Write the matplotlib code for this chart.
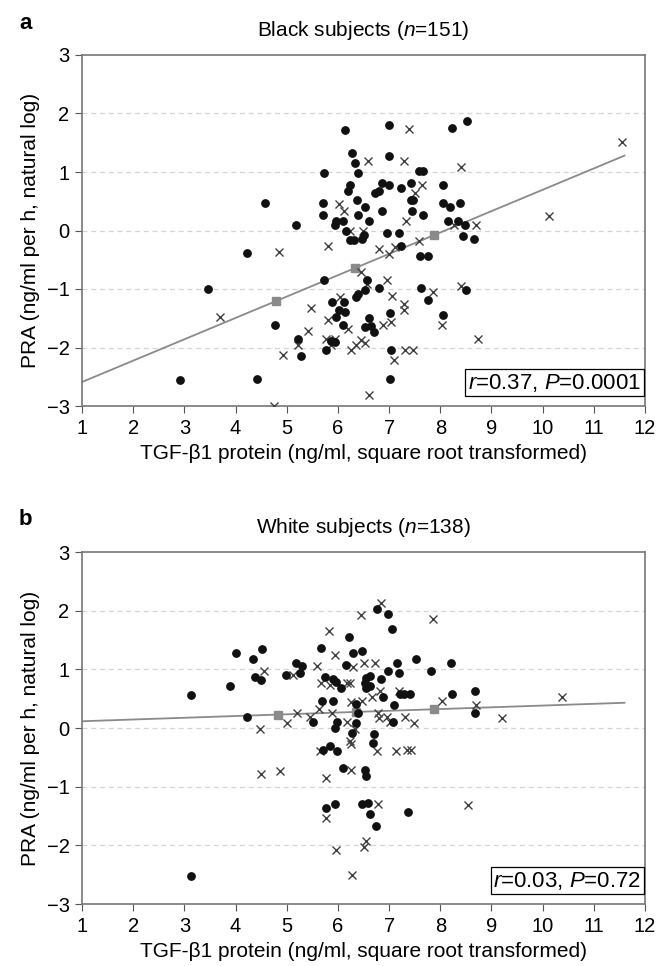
import numpy as np
import matplotlib
matplotlib.use("Agg")
import matplotlib.pyplot as plt

plt.rcParams['font.family'] = ['Liberation Sans', 'DejaVu Sans']
plt.rcParams['mathtext.fontset'] = 'custom'
plt.rcParams['mathtext.rm'] = 'Liberation Sans'
plt.rcParams['mathtext.it'] = 'Liberation Sans:italic'

# ---- panel a: Black subjects ----
black_dot_x = [6.13, 7.00, 8.23, 8.53, 6.27, 7.00, 6.33, 6.40, 5.72, 7.59, 7.67, 6.86, 7.00, 7.23,
               7.43, 8.06, 6.24, 6.20, 6.72, 6.81, 7.42, 7.47, 4.57, 5.70, 6.38, 6.53, 6.86, 7.44,
               8.06, 8.19, 8.38, 5.70, 5.97, 6.10, 6.40, 6.61, 7.66, 5.94, 6.15, 5.18, 8.15, 8.35,
               8.48, 8.45, 8.65, 6.95, 7.20, 6.23, 6.31, 6.47, 6.51, 7.23, 4.22, 7.60, 7.76, 5.72,
               6.56, 6.81, 6.53, 6.36, 6.40, 7.63, 7.76, 8.50, 5.89, 6.11, 6.03, 6.13, 5.97, 7.02,
               8.06, 4.78, 6.10, 6.61, 6.53, 6.64, 6.71, 5.22, 5.87, 5.95, 5.77, 5.28, 7.03, 4.42,
               7.01, 3.46, 2.91]
black_dot_y = [1.72, 1.81, 1.76, 1.88, 1.32, 1.27, 1.15, 0.98, 0.98, 1.02, 1.02, 0.82, 0.78, 0.73,
               0.82, 0.78, 0.78, 0.68, 0.64, 0.68, 0.52, 0.52, 0.47, 0.47, 0.52, 0.40, 0.34, 0.34,
               0.47, 0.40, 0.47, 0.26, 0.17, 0.17, 0.26, 0.17, 0.26, 0.09, 0.00, 0.09, 0.17, 0.17,
               0.09, -0.10, -0.14, -0.05, -0.05, -0.17, -0.17, -0.14, -0.07, -0.26, -0.38, -0.44, -0.44, -0.84,
               -0.84, -0.98, -1.02, -1.14, -1.08, -0.98, -1.19, -1.02, -1.22, -1.22, -1.36, -1.39, -1.48, -1.41,
               -1.44, -1.62, -1.62, -1.49, -1.65, -1.64, -1.73, -1.85, -1.89, -1.90, -2.05, -2.14, -2.05, -2.53,
               -2.53, -1.00, -2.55]
black_x_x = [7.38, 6.59, 7.30, 8.40, 7.65, 7.51, 6.02, 6.11, 7.33, 6.23, 6.49, 5.80, 4.85, 6.81,
             6.99, 7.12, 7.59, 8.27, 8.70, 6.46, 6.56, 6.95, 7.05, 6.05, 7.86, 8.40, 5.48, 7.30,
             7.30, 5.80, 5.41, 6.20, 6.89, 7.03, 8.03, 5.76, 5.95, 5.87, 5.23, 6.26, 6.36, 6.46,
             6.53, 4.92, 7.32, 7.47, 7.10, 8.74, 6.61, 3.70, 4.75, 10.12, 11.55]
black_x_y = [1.73, 1.18, 1.18, 1.08, 0.78, 0.64, 0.45, 0.34, 0.17, 0.00, 0.00, -0.27, -0.37, -0.31,
             -0.40, -0.28, -0.18, 0.09, 0.09, -0.71, -0.91, -0.84, -1.12, -1.14, -1.05, -0.95, -1.32, -1.25,
             -1.36, -1.53, -1.72, -1.68, -1.62, -1.56, -1.62, -1.85, -1.85, -1.96, -1.96, -2.05, -1.96, -1.88,
             -1.93, -2.13, -2.05, -2.05, -2.22, -1.85, -2.81, -1.48, -3.00, 0.25, 1.52]
black_fit_x = [1.0, 11.6]
black_fit_y = [-2.59, 1.28]
black_sq_x = [4.80, 6.34, 7.87]
black_sq_y = [-1.20, -0.64, -0.08]

# ---- panel b: White subjects ----
white_dot_x = [6.76, 6.97, 7.06, 6.21, 5.66, 4.52, 4.34, 6.30, 6.47, 7.53, 8.21, 5.18, 5.30, 5.26,
               4.98, 4.38, 4.49, 6.15, 7.15, 7.19, 6.97, 7.82, 5.74, 5.90, 5.97, 6.07, 6.55, 6.63,
               6.53, 6.55, 6.63, 6.85, 6.89, 7.22, 7.30, 7.40, 7.10, 8.23, 8.67, 8.67, 5.69, 5.90,
               6.35, 6.40, 4.22, 5.52, 5.98, 5.94, 6.35, 6.28, 7.07, 6.70, 6.68, 5.70, 5.84, 5.98,
               6.10, 6.53, 6.55, 4.00, 3.90, 3.12, 5.77, 5.95, 6.48, 6.58, 6.62, 6.74, 7.36, 3.12]
white_dot_y = [2.02, 1.95, 1.69, 1.55, 1.37, 1.35, 1.18, 1.27, 1.32, 1.18, 1.11, 1.11, 1.06, 0.94,
               0.90, 0.87, 0.82, 1.08, 1.11, 0.94, 0.98, 0.98, 0.87, 0.83, 0.79, 0.69, 0.86, 0.88,
               0.77, 0.68, 0.72, 0.83, 0.52, 0.58, 0.58, 0.58, 0.40, 0.58, 0.63, 0.25, 0.46, 0.46,
               0.41, 0.25, 0.18, 0.10, 0.10, 0.00, 0.08, -0.09, 0.10, -0.10, -0.26, -0.37, -0.30, -0.40,
               -0.68, -0.72, -0.82, 1.28, 0.72, 0.56, -1.36, -1.29, -1.29, -1.28, -1.47, -1.67, -1.43, -2.52]
white_x_x = [6.84, 6.46, 7.86, 5.82, 5.94, 4.56, 5.13, 5.59, 6.30, 6.51, 6.72, 5.66, 5.85, 6.18,
             6.24, 6.66, 6.82, 7.19, 6.26, 6.47, 5.64, 5.21, 5.45, 5.88, 6.79, 6.81, 6.95, 7.02,
             7.31, 7.48, 8.03, 8.69, 5.01, 4.47, 6.17, 6.33, 6.23, 6.26, 5.65, 6.76, 7.14, 7.35,
             7.42, 6.26, 4.49, 4.87, 5.76, 5.77, 6.79, 8.55, 10.37, 9.21, 5.96, 6.28, 6.55, 6.50]
white_x_y = [2.13, 1.92, 1.85, 1.66, 1.25, 0.98, 0.90, 1.05, 1.04, 1.11, 1.11, 0.77, 0.73, 0.77,
             0.76, 0.53, 0.63, 0.63, 0.45, 0.46, 0.32, 0.25, 0.18, 0.25, 0.25, 0.17, 0.18, 0.10,
             0.18, 0.08, 0.46, 0.40, 0.08, -0.01, 0.10, -0.02, -0.23, -0.28, -0.40, -0.40, -0.40, -0.37,
             -0.38, -0.71, -0.78, -0.74, -0.85, -1.53, -1.29, -1.32, 0.52, 0.17, -2.08, -2.50, -1.92, -2.02]
white_fit_x = [1.0, 11.6]
white_fit_y = [0.115, 0.43]
white_sq_x = [4.83, 6.35, 7.87]
white_sq_y = [0.23, 0.27, 0.32]

panels = [
    ('a', 'Black subjects ($\\mathit{n}$=151)', black_dot_x, black_dot_y, black_x_x, black_x_y,
     black_fit_x, black_fit_y, black_sq_x, black_sq_y, '$\\mathit{r}$=0.37, $\\mathit{P}$=0.0001'),
    ('b', 'White subjects ($\\mathit{n}$=138)', white_dot_x, white_dot_y, white_x_x, white_x_y,
     white_fit_x, white_fit_y, white_sq_x, white_sq_y, '$\\mathit{r}$=0.03, $\\mathit{P}$=0.72'),
]

fig = plt.figure(figsize=(6.6, 9.66), dpi=100)
# axes boxes in pixels: left 82, right 645; a: 55-406, b: 552-904
boxes = [[82 / 660, 1 - 406 / 966, 563 / 660, 351 / 966],
         [82 / 660, 1 - 904 / 966, 563 / 660, 352 / 966]]

for box, (letter, title, dx, dy, xx, xy, fx, fy, sx, sy, stat) in zip(boxes, panels):
    ax = fig.add_axes(box)
    for g in [-2, -1, 0, 1, 2]:
        ax.axhline(g, color='#d4d4d4', lw=0.9, ls=(0, (4, 3)), zorder=0)
    ax.plot(fx, fy, color='#8a8a8a', lw=1.3, zorder=2)
    ax.plot(sx, sy, ls='none', marker='s', ms=6.3, color='#8a8a8a', zorder=3)
    ax.plot(xx, xy, ls='none', marker='x', ms=5.6, mew=1.0, color='#404040', zorder=4)
    ax.plot(dx, dy, ls='none', marker='o', ms=5.3, color='#111111', zorder=5)

    ax.set_xlim(1, 12)
    ax.set_ylim(-3, 3)
    ax.set_xticks(range(1, 13))
    ax.set_yticks(range(-3, 4))
    ax.set_yticklabels(['\u22123', '\u22122', '\u22121', '0', '1', '2', '3'])
    ax.tick_params(labelsize=14.5, direction='out', length=5, color='#555555', pad=4)
    for sp in ax.spines.values():
        sp.set_color('#777777')
        sp.set_linewidth(1.2)

    ax.set_xlabel('TGF-\u03b21 protein (ng/ml, square root transformed)', fontsize=15, labelpad=5)
    ax.set_ylabel('PRA (ng/ml per h, natural log)', fontsize=15, labelpad=5)
    ax.set_title(title, fontsize=15, pad=14)
    ax.text(-0.101, 1.091, letter, transform=ax.transAxes, fontsize=16, fontweight='bold',
            va='center', ha='center')
    ax.text(0.993, 0.035, stat, transform=ax.transAxes, ha='right', va='bottom', fontsize=16,
            bbox=dict(boxstyle='square,pad=0.12', fc='white', ec='black', lw=0.9), zorder=6)

fig.savefig('out.png', dpi=100)
